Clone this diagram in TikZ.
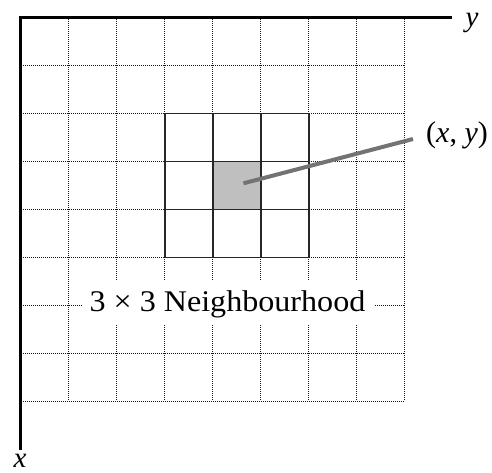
\documentclass[tikz,border=0pt]{standalone}
\usepackage{fontspec}
\setmainfont{Liberation Serif}
\begin{document}
\begin{tikzpicture}[x=1pt,y=-1pt,
  gridline/.style={line width=1pt,black!90,dash pattern=on 1pt off 1pt},
  axisline/.style={line width=3pt,black},
  hoodline/.style={line width=1.6pt,black!85},
  pointer/.style={line width=4pt,black!55},
  lbl/.style={font=\fontsize{29}{34}\selectfont,inner sep=0pt},
  biglbl/.style={font=\fontsize{30}{34}\selectfont\addfontfeatures{FakeStretch=1.07},inner sep=0pt}]
\useasboundingbox (0,0) rectangle (492,472);
% dotted grid
\foreach \i in {1,...,8} {
  \draw[gridline] (20.7+48*\i,17.3) -- (20.7+48*\i,401.3);
  \draw[gridline] (20.7,17.3+48*\i) -- (404.7,17.3+48*\i);
}
% label background
\fill[white] (82,280) rectangle (375,325);
\node[biglbl,anchor=base] (hood) at (227.5,311.5) {3 × 3 Neighbourhood};
% 3x3 neighbourhood
\fill[black!25] (212.7,161.3) rectangle (260.7,209.3);
\foreach \i in {0,...,3} {
  \draw[hoodline] (164.7+48*\i,113.3) -- (164.7+48*\i,257.3);
  \draw[hoodline] (164.7,113.3+48*\i) -- (308.7,113.3+48*\i);
}
\coordinate (c) at (243.5,183.3);
% axes
\coordinate (yend) at (452,17.3);
\coordinate (xend) at (20.7,450);
\draw[axisline] (19.2,17.3) -- (yend);
\draw[axisline] (20.7,15.8) -- (xend);
\node[lbl,anchor=base] (ylab) at (472,26) {\textit{y}};
\node[lbl,anchor=base] (xlab) at (20,467) {\textit{x}};
% pointer
\node[lbl,anchor=west,font=\fontsize{30}{34}\selectfont] (pt) at (426,135) {(\textit{x}, \textit{y})};
\coordinate (pe) at (413,139);
\draw[pointer] (c) -- (pe);
\end{tikzpicture}
\end{document}
